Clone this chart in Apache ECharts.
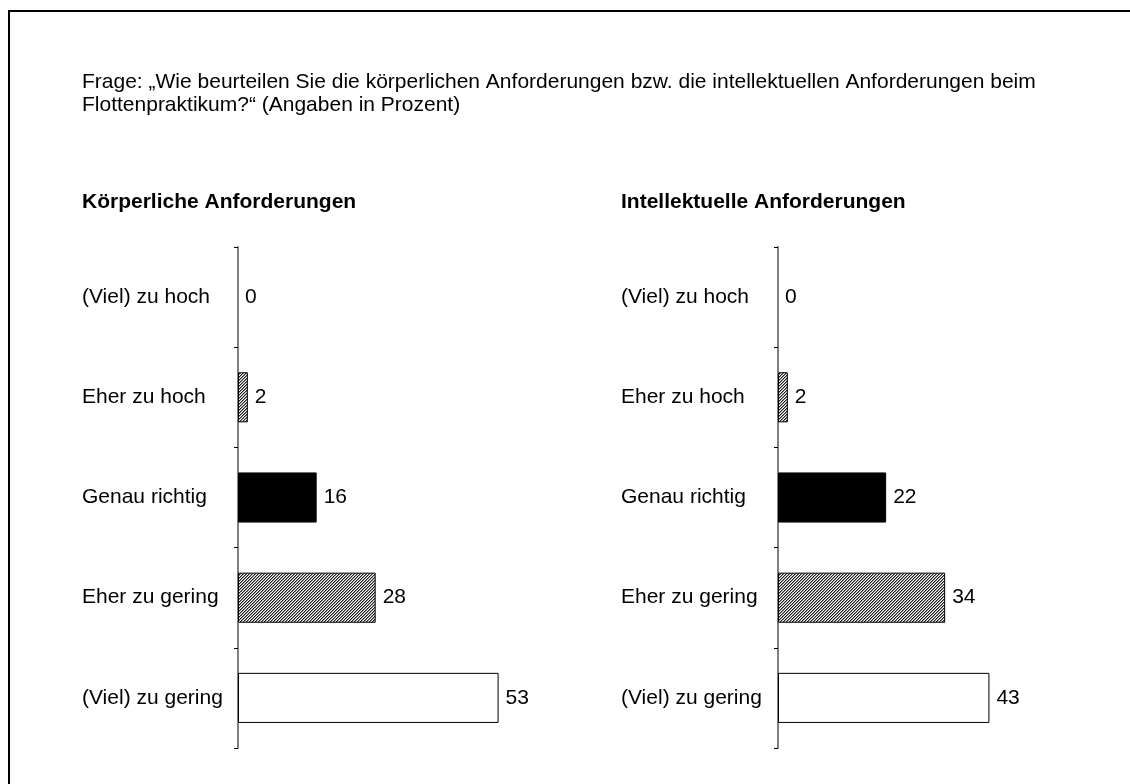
<!DOCTYPE html>
<html>
<head>
<meta charset="utf-8">
<script src="https://cdn.jsdelivr.net/npm/echarts@6/dist/echarts.min.js"></script>
<style>
  html, body { margin: 0; padding: 0; background: #fff; }
  #chart { width: 1130px; height: 784px; }
</style>
</head>
<body>
<div id="chart"></div>
<script>
const categories = ['(Viel) zu hoch', 'Eher zu hoch', 'Genau richtig', 'Eher zu gering', '(Viel) zu gering']
const koerperlich = [0, 2, 16, 28, 53]
const intellektuell = [0, 2, 22, 34, 43]

const FONT = '"Liberation Sans", Arial, sans-serif'

// Schraffur-Muster (feine Diagonalen, Periode 3 px)
const makeHatch = () => {
  const c = document.createElement('canvas')
  c.width = 3
  c.height = 3
  const ctx = c.getContext('2d')
  const tones = ['#1e1e1e', '#8f8f8f', '#ffffff']
  for (let x = 0; x < 3; x++) {
    for (let y = 0; y < 3; y++) {
      ctx.fillStyle = tones[(x + y) % 3]
      ctx.fillRect(x, y, 1, 1)
    }
  }
  return c
}
const hatch = { image: makeHatch(), repeat: 'repeat' }
const fills = ['#ffffff', hatch, '#000000', hatch, '#ffffff']

const chart = echarts.init(document.getElementById('chart'))

// 60 Einheiten = 295 px
const grids = [
  { left: 238, top: 247, width: 295, height: 501 },
  { left: 778, top: 247, width: 295, height: 501 }
]

const yAxisFor = (idx, labelLeft) => ({
  type: 'category',
  gridIndex: idx,
  data: categories,
  inverse: true,
  axisLine: { show: true, lineStyle: { color: '#808080', width: 2 } },
  axisTick: { show: true, length: 4, lineStyle: { color: '#000' } },
  axisLabel: {
    align: 'left',
    margin: grids[idx].left - labelLeft,
    color: '#000',
    fontSize: 21,
    fontFamily: FONT
  }
})

const xAxisFor = idx => ({
  type: 'value',
  gridIndex: idx,
  min: 0,
  max: 60,
  show: false
})

const seriesFor = (idx, values) => ({
  type: 'bar',
  xAxisIndex: idx,
  yAxisIndex: idx,
  barWidth: '50%',
  data: values.map((v, i) => ({
    value: v,
    itemStyle: { color: fills[i], borderWidth: v === 0 ? 0 : 1 }
  })),
  itemStyle: { borderColor: '#000', borderWidth: 1 },
  label: {
    show: true,
    position: 'right',
    distance: 7,
    color: '#000',
    fontSize: 21,
    fontFamily: FONT
  },
  silent: true
})

const option = {
  animation: false,
  backgroundColor: '#fff',
  title: [
    {
      text: 'Frage: „Wie beurteilen Sie die körperlichen Anforderungen bzw. die intellektuellen Anforderungen beim\nFlottenpraktikum?“ (Angaben in Prozent)',
      left: 77,
      top: 66,
      textStyle: { fontSize: 21, fontWeight: 'normal', color: '#000', fontFamily: FONT, lineHeight: 23 }
    },
    {
      text: 'Körperliche Anforderungen',
      left: 77,
      top: 187,
      textStyle: { fontSize: 21, fontWeight: 'bold', color: '#000', fontFamily: FONT }
    },
    {
      text: 'Intellektuelle Anforderungen',
      left: 616,
      top: 187,
      textStyle: { fontSize: 21, fontWeight: 'bold', color: '#000', fontFamily: FONT }
    }
  ],
  graphic: [
    {
      type: 'rect',
      shape: { x: 9, y: 11, width: 1200, height: 900 },
      style: { fill: 'none', stroke: '#000', lineWidth: 2 },
      silent: true
    }
  ],
  grid: grids,
  xAxis: [xAxisFor(0), xAxisFor(1)],
  yAxis: [yAxisFor(0, 82), yAxisFor(1, 621)],
  series: [seriesFor(0, koerperlich), seriesFor(1, intellektuell)]
}

chart.setOption(option)
</script>
</body>
</html>
